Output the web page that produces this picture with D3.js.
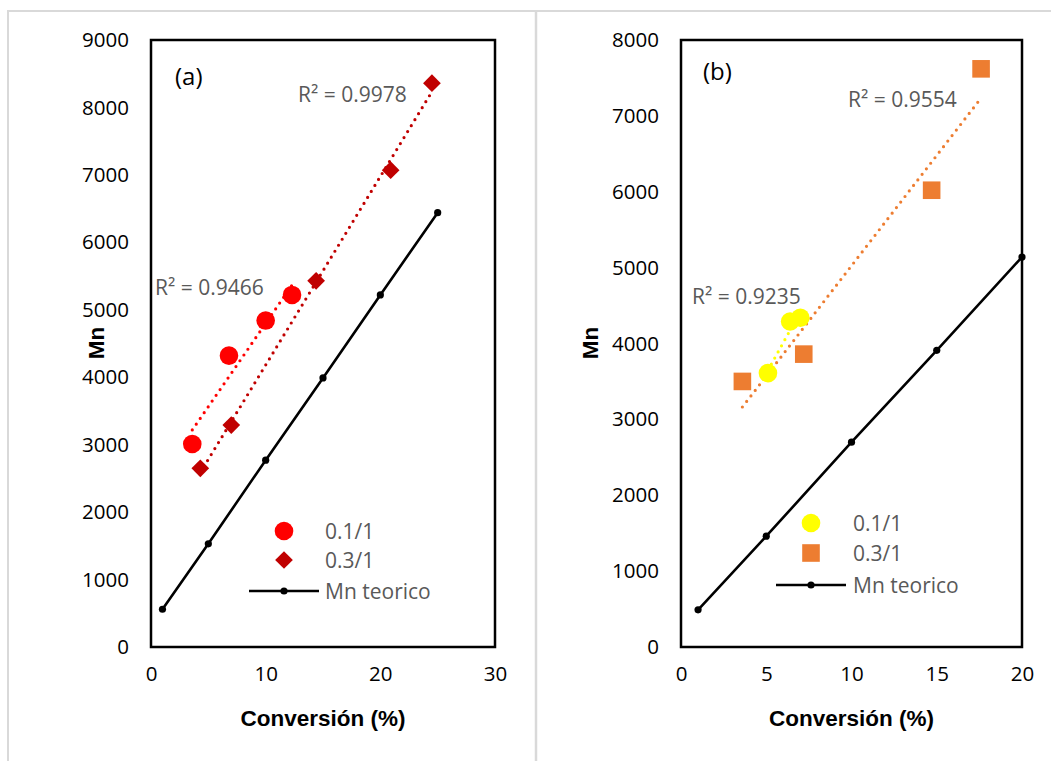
<!DOCTYPE html>
<html>
<head>
<meta charset="utf-8">
<script src="https://cdn.jsdelivr.net/npm/d3@7"></script>
<style>
  html, body { margin: 0; padding: 0; background: #fff; }
  svg { display: block; }
</style>
</head>
<body>
<svg id="chart" width="1051" height="761"></svg>
<script>
// ---------------- DATA ----------------
// Panel (a)
const xTicksA = [0, 10, 20, 30];
const yTicksA = [0, 1000, 2000, 3000, 4000, 5000, 6000, 7000, 8000, 9000];
const convA_01 = [3.6, 6.8, 10.0, 12.3];
const mnA_01   = [3010, 4320, 4840, 5220];
const convA_03 = [4.3, 7.0, 14.4, 20.9, 24.5];
const mnA_03   = [2650, 3290, 5430, 7070, 8360];
const convA_teo = [1, 5, 10, 15, 20, 25];
const mnA_teo   = [560, 1530, 2770, 3990, 5220, 6440];
const r2A = ["R\u00B2 = 0.9466", "R\u00B2 = 0.9978"];

// Panel (b)
const xTicksB = [0, 5, 10, 15, 20];
const yTicksB = [0, 1000, 2000, 3000, 4000, 5000, 6000, 7000, 8000];
const convB_01 = [5.1, 6.4, 7.0];
const mnB_01   = [3610, 4290, 4340];
const convB_03 = [3.6, 7.2, 14.7, 17.6];
const mnB_03   = [3500, 3860, 6020, 7620];
const convB_teo = [1, 5, 10, 15, 20];
const mnB_teo   = [490, 1460, 2700, 3910, 5140];
const r2B = ["R\u00B2 = 0.9235", "R\u00B2 = 0.9554"];

const seriesNames = ["0.1/1", "0.3/1", "Mn teorico"];
const xTitle = "Conversi\u00F3n (%)";
const yTitle = "Mn";

// ---------------- DRAW ----------------
const svg = d3.select("#chart");
const FONT = "'Open Sans', 'DejaVu Sans', sans-serif";
const TITLE_FONT = "'Liberation Sans', Arial, sans-serif";
const GRAY = "#595959";

// outer light borders
svg.append("line").attr("x1", 7).attr("x2", 1051).attr("y1", 11).attr("y2", 11)
  .attr("stroke", "#d9d9d9").attr("stroke-width", 2);
svg.append("line").attr("x1", 8).attr("x2", 8).attr("y1", 10).attr("y2", 761)
  .attr("stroke", "#d9d9d9").attr("stroke-width", 2);
svg.append("line").attr("x1", 536).attr("x2", 536).attr("y1", 10).attr("y2", 761)
  .attr("stroke", "#d9d9d9").attr("stroke-width", 2.5);

function fit(xs, ys) {
  const n = xs.length;
  const mx = d3.mean(xs), my = d3.mean(ys);
  let sxy = 0, sxx = 0;
  for (let i = 0; i < n; i++) { sxy += (xs[i] - mx) * (ys[i] - my); sxx += (xs[i] - mx) ** 2; }
  const b = sxy / sxx, a = my - b * mx;
  const x0 = d3.min(xs), x1 = d3.max(xs);
  return [[x0, a + b * x0], [x1, a + b * x1]];
}

function drawPanel(cfg) {
  const g = svg.append("g");
  const x = d3.scaleLinear().domain(cfg.xDomain).range([cfg.left, cfg.right]);
  const y = d3.scaleLinear().domain(cfg.yDomain).range([cfg.bottom, cfg.top]);

  // axes
  const ya = g.append("g").attr("transform", `translate(${cfg.left},0)`)
    .call(d3.axisLeft(y).tickValues(cfg.yTicks).tickSize(0).tickPadding(22).tickFormat(d3.format("d")));
  const xa = g.append("g").attr("transform", `translate(0,${cfg.bottom})`)
    .call(d3.axisBottom(x).tickValues(cfg.xTicks).tickSize(0).tickPadding(19).tickFormat(d3.format("d")));
  [ya, xa].forEach(a => {
    a.select(".domain").remove();
    a.selectAll("text").attr("font-family", FONT).attr("font-size", 20.5).attr("fill", "#000");
  });

  // plot box
  g.append("rect").attr("x", cfg.left).attr("y", cfg.top)
    .attr("width", cfg.right - cfg.left).attr("height", cfg.bottom - cfg.top)
    .attr("fill", "none").attr("stroke", "#000").attr("stroke-width", 2.5);

  // axis titles
  g.append("text").attr("x", (cfg.left + cfg.right) / 2).attr("y", 726)
    .attr("text-anchor", "middle").attr("font-family", TITLE_FONT).attr("font-weight", "bold")
    .attr("font-size", 22.5).text(xTitle);
  g.append("text").attr("transform", `translate(${cfg.yTitleX},343) rotate(-90)`)
    .attr("text-anchor", "middle").attr("font-family", TITLE_FONT).attr("font-weight", "bold")
    .attr("font-size", 22.5).text(yTitle);

  // trendlines
  const line = d3.line().x(d => x(d[0])).y(d => y(d[1]));
  cfg.trends.forEach(t => {
    g.append("path").attr("d", line(fit(t.xs, t.ys))).attr("fill", "none")
      .attr("stroke", t.color).attr("stroke-width", 3.2).attr("stroke-linecap", "round")
      .attr("stroke-dasharray", "0 7");
  });

  // theoretical line
  const teo = cfg.teoX.map((v, i) => [v, cfg.teoY[i]]);
  g.append("path").attr("d", line(teo)).attr("fill", "none").attr("stroke", "#000").attr("stroke-width", 2.6);
  g.selectAll(null).data(teo).enter().append("circle")
    .attr("cx", d => x(d[0])).attr("cy", d => y(d[1])).attr("r", 3.6).attr("fill", "#000");

  // series markers
  const s1 = cfg.s1X.map((v, i) => [v, cfg.s1Y[i]]);
  const s2 = cfg.s2X.map((v, i) => [v, cfg.s2Y[i]]);
  const sym2 = d3.symbol().type(cfg.s2Shape).size(cfg.s2Size);
  g.selectAll(null).data(s2).enter().append("path")
    .attr("d", sym2).attr("transform", d => `translate(${x(d[0])},${y(d[1])})`)
    .attr("fill", cfg.s2Color);
  g.selectAll(null).data(s1).enter().append("circle")
    .attr("cx", d => x(d[0])).attr("cy", d => y(d[1])).attr("r", 9.3).attr("fill", cfg.s1Color);

  // labels
  g.append("text").attr("x", cfg.tag[1]).attr("y", cfg.tag[2]).attr("dominant-baseline", "central")
    .attr("font-family", FONT).attr("font-size", 24).attr("fill", "#000").text(cfg.tag[0]);
  cfg.r2.forEach((lbl, i) => {
    g.append("text").attr("x", cfg.r2Pos[i][0]).attr("y", cfg.r2Pos[i][1]).attr("dominant-baseline", "central")
      .attr("font-family", FONT).attr("font-size", 21).attr("fill", GRAY).text(lbl);
  });

  // legend
  const L = cfg.legend;
  g.append("circle").attr("cx", L.mx).attr("cy", L.y[0]).attr("r", 9.3).attr("fill", cfg.s1Color);
  g.append("path").attr("d", sym2).attr("transform", `translate(${L.mx},${L.y[1]})`).attr("fill", cfg.s2Color);
  g.append("line").attr("x1", L.mx - 35).attr("x2", L.mx + 35).attr("y1", L.y[2]).attr("y2", L.y[2])
    .attr("stroke", "#000").attr("stroke-width", 2.6);
  g.append("circle").attr("cx", L.mx).attr("cy", L.y[2]).attr("r", 3.6).attr("fill", "#000");
  seriesNames.forEach((nm, i) => {
    g.append("text").attr("x", L.tx).attr("y", L.y[i]).attr("dominant-baseline", "central")
      .attr("font-family", FONT).attr("font-size", 21).attr("fill", GRAY).text(nm);
  });
}

drawPanel({
  left: 151, right: 495, top: 40, bottom: 647,
  xDomain: [0, 30], yDomain: [0, 9000], xTicks: xTicksA, yTicks: yTicksA,
  yTitleX: 104,
  s1X: convA_01, s1Y: mnA_01, s1Color: "#ff0000",
  s2X: convA_03, s2Y: mnA_03, s2Color: "#c00000", s2Shape: d3.symbolDiamond2, s2Size: 200,
  teoX: convA_teo, teoY: mnA_teo,
  trends: [{ xs: convA_01, ys: mnA_01, color: "#ff0000" }, { xs: convA_03, ys: mnA_03, color: "#c00000" }],
  tag: ["(a)", 175, 75],
  r2: r2A, r2Pos: [[155, 287], [298, 94]],
  legend: { mx: 284, tx: 325, y: [531, 560, 591] }
});

drawPanel({
  left: 681, right: 1022, top: 40, bottom: 647,
  xDomain: [0, 20], yDomain: [0, 8000], xTicks: xTicksB, yTicks: yTicksB,
  yTitleX: 598,
  s1X: convB_01, s1Y: mnB_01, s1Color: "#ffff00",
  s2X: convB_03, s2Y: mnB_03, s2Color: "#ed7d31", s2Shape: d3.symbolSquare, s2Size: 310,
  teoX: convB_teo, teoY: mnB_teo,
  trends: [{ xs: convB_01, ys: mnB_01, color: "#ffff00" }, { xs: convB_03, ys: mnB_03, color: "#ed7d31" }],
  tag: ["(b)", 703, 70],
  r2: r2B, r2Pos: [[692, 296], [848, 99]],
  legend: { mx: 811, tx: 853, y: [523, 553, 585] }
});
</script>
</body>
</html>
